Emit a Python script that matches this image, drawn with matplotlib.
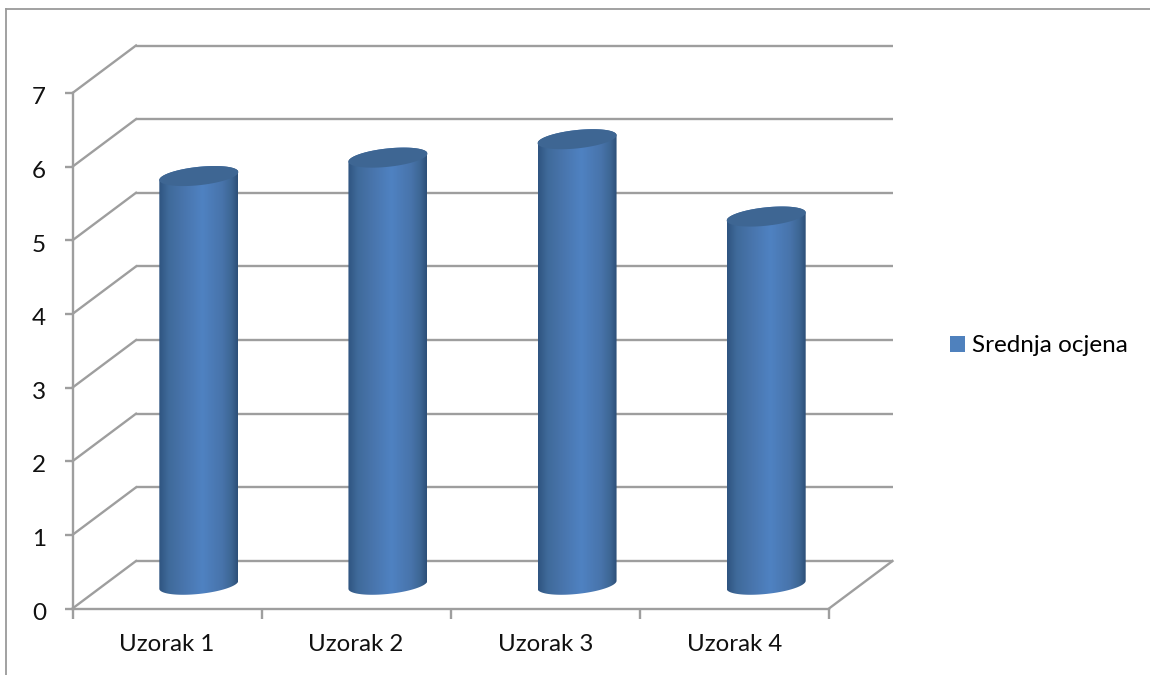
import numpy as np
import matplotlib
matplotlib.use('Agg')
import matplotlib.pyplot as plt
from matplotlib.colors import LinearSegmentedColormap
from matplotlib.lines import Line2D
from matplotlib.patches import Patch, PathPatch, Polygon
from matplotlib.path import Path
from matplotlib.transforms import ScaledTranslation

categories = ['Uzorak 1', 'Uzorak 2', 'Uzorak 3', 'Uzorak 4']
values = [5.55, 5.8, 6.05, 5.0]
series_name = 'Srednja ocjena'
y_ticks = [0, 1, 2, 3, 4, 5, 6, 7]

plt.rcParams['font.family'] = ['Lato', 'DejaVu Sans']
W, H = 1150, 675
GREY = '#9e9e9e'
LW = 1.7
fig = plt.figure(figsize=(W / 100, H / 100), dpi=100)

# front plane of the fake 3d box, in pixels
left, right, top, bottom = 72.5, 829.0, 93.0, 608.5
ax = fig.add_axes([left / W, 1 - bottom / H, (right - left) / W, (bottom - top) / H])
ax.set_facecolor('none')
px_x = (right - left) / len(categories)
px_y = (bottom - top) / max(y_ticks)
depth_x = 63.5 / px_x
depth_y = 47.5 / px_y

# back wall + side wall lines
for v in y_ticks:
    ax.plot([depth_x, len(categories) + depth_x], [v + depth_y, v + depth_y],
            color=GREY, lw=LW, clip_on=False, zorder=1, solid_capstyle='butt')
    ax.plot([0, depth_x], [v, v + depth_y], color=GREY, lw=LW, clip_on=False, zorder=1)
ax.plot([len(categories), len(categories) + depth_x], [0, depth_y],
        color=GREY, lw=LW, clip_on=False, zorder=1)

# cylinders
cmap = LinearSegmentedColormap.from_list('cyl', [
    (0.0, '#2f5480'), (0.12, '#3f6a9a'), (0.3, '#4874ab'), (0.55, '#4f82c2'),
    (0.8, '#4874ab'), (0.92, '#3d6694'), (1.0, '#2d4f78')])
grad = np.linspace(0, 1, 256).reshape(1, -1)
a, b, k = 39.5 / px_x, 9.2 / px_y, 4.0 / px_y
t = np.linspace(0, np.pi, 60)
for i, val in enumerate(values):
    cx = i + 0.5 + depth_x / 2
    base = depth_y / 2
    tip = base + val
    # lower outline runs left to right along the front of the base ellipse
    xs_low = cx - a * np.cos(t)
    ys_low = base - k * np.cos(t) - b * np.sin(t)
    xs_up = cx + a * np.cos(t)
    ys_up = tip + k * np.cos(t) + b * np.sin(t)
    body = np.column_stack([np.r_[xs_low, xs_up], np.r_[ys_low, ys_up]])
    im = ax.imshow(grad, cmap=cmap, aspect='auto', zorder=3, clip_on=True,
                   extent=[cx - a, cx + a, base - 1, tip + 1])
    clip = PathPatch(Path(np.vstack([body, body[:1]]), closed=True), transform=ax.transData)
    im.set_clip_path(clip)
    tt = np.linspace(0, 2 * np.pi, 120)
    cap = np.column_stack([cx + a * np.cos(tt), tip + k * np.cos(tt) + b * np.sin(tt)])
    ax.add_patch(Polygon(cap, closed=True, facecolor='#3e6693', edgecolor='none', zorder=4))

ax.set_xlim(0, len(categories))
ax.set_ylim(0, max(y_ticks))

for side in ['top', 'right']:
    ax.spines[side].set_visible(False)
for side in ['left', 'bottom']:
    ax.spines[side].set_color(GREY)
    ax.spines[side].set_linewidth(LW)
ax.set_yticks(y_ticks)
ax.set_xticks(range(len(categories) + 1))
ax.set_xticklabels([])
ax.set_xticks(np.arange(len(categories)) + 0.5, categories, minor=True)
ax.tick_params(axis='x', which='major', length=7, width=LW, color=GREY)
ax.tick_params(axis='x', which='minor', length=0, pad=18.5, labelsize=17.3, labelcolor='#111111')
ax.tick_params(axis='y', length=6, width=LW, color=GREY, pad=13, labelsize=17.5, labelcolor='#111111')
nudge = ScaledTranslation(0, -2 / 72, fig.dpi_scale_trans)
for lab in ax.get_yticklabels():
    lab.set_transform(lab.get_transform() + nudge)

handle = Patch(facecolor='#4f81bd', edgecolor='none', label=series_name)
fig.legend(handles=[handle], loc='center left', bbox_to_anchor=(950 / W, 1 - 346 / H), frameon=False,
           fontsize=17.5, handlelength=0.62, handleheight=0.62, handletextpad=0.29, borderpad=0, borderaxespad=0)

# chart frame, only top and left show
fig.add_artist(Line2D([6 / W, 6 / W], [0, 1 - 9 / H], color='#9a9a9a', lw=1.3))
fig.add_artist(Line2D([6 / W, 1], [1 - 9 / H, 1 - 9 / H], color='#9a9a9a', lw=1.3))

fig.savefig('out.png', dpi=100)
